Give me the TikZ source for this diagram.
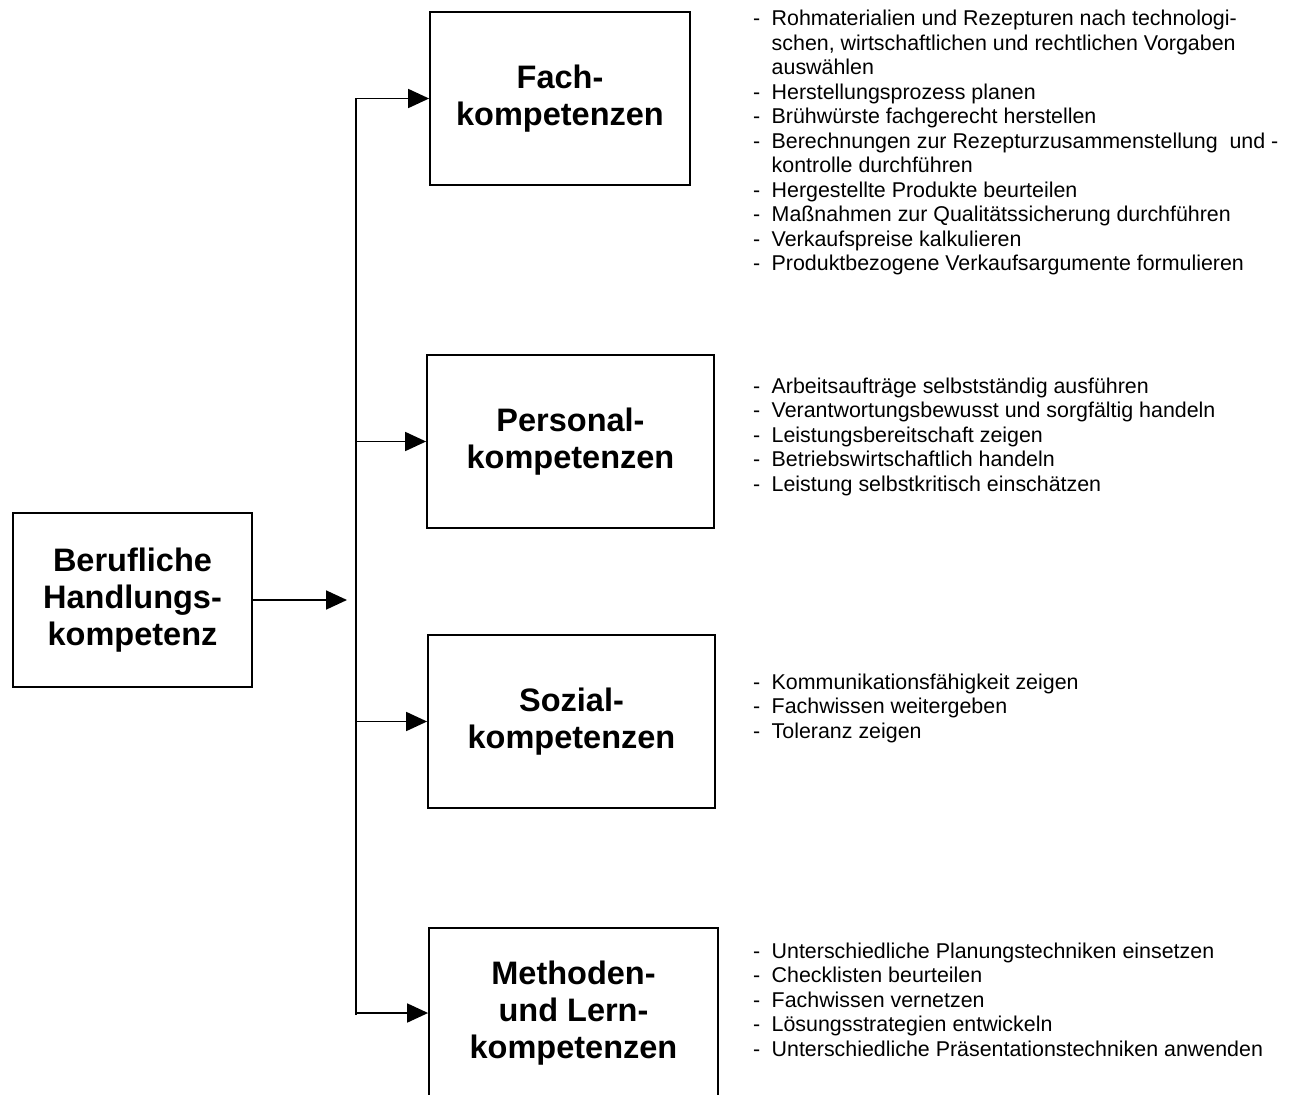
\documentclass[tikz,border=0pt]{standalone}
\usepackage{fontspec}
\setmainfont{Liberation Sans}
\usetikzlibrary{arrows.meta}
% list entries: a hyphen followed by the text, continuation lines indented
\newcommand\dashitem[1]{\makebox[18.5pt][l]{-}#1}
\newcommand\dashcont[1]{\hspace*{18.5pt}#1}
\newcommand\firstline{\rule{0pt}{20pt}}
\begin{document}
\begin{tikzpicture}[x=1pt,y=-1pt,
  box/.style={draw, line width=1.8pt, align=center, inner sep=0pt,
    font=\fontsize{32.5}{37}\selectfont\bfseries},
  conn/.style={line width=1.8pt},
  arr/.style={conn, -{Triangle[length=21pt,width=19pt]}},
  list/.style={anchor=north west, inner sep=0pt, align=left,
    font=\fontsize{21.4}{24.5}\selectfont}]
\useasboundingbox (0,0) rectangle (1294,1095);
\clip (0,0) rectangle (1294,1095);

% boxes
\node[box, minimum width=239pt, minimum height=174pt] (main) at (132.5,600)
  {Berufliche\\Handlungs-\\kompetenz};
\node[box, minimum width=260pt, minimum height=173pt] (fach) at (560,98.5)
  {Fach-\\kompetenzen};
\node[box, minimum width=287pt, minimum height=173pt] (pers) at (570.5,441.5)
  {Personal-\\kompetenzen};
\node[box, minimum width=287pt, minimum height=173pt] (sozi) at (571.5,721.5)
  {Sozial-\\kompetenzen};
\node[box, minimum width=289pt, minimum height=170pt] (meth) at (573.5,1013)
  {Methoden-\\und Lern-\\kompetenzen};

% connectors
\coordinate (ttop) at (356,98.5);
\coordinate (tbot) at (356,1015);
\coordinate (hub) at (347,600);
\draw[arr] (main.east) -- (hub);
\draw[arr] (tbot) -- (ttop) -- (fach.west);
\draw[arr] (ttop |- pers.west) -- (pers.west);
\draw[arr] (ttop |- sozi.west) -- (sozi.west);
\draw[arr] (ttop |- meth.west) -- (meth.west);

% lists of competences
\node[list] (fachlist) at (753,5.5) {\firstline\dashitem{Rohmaterialien und Rezepturen nach technologi-}\\
  \dashcont{schen, wirtschaftlichen und rechtlichen Vorgaben}\\
  \dashcont{auswählen}\\
  \dashitem{Herstellungsprozess planen}\\
  \dashitem{Brühwürste fachgerecht herstellen}\\
  \dashitem{Berechnungen zur Rezepturzusammenstellung\ \ und -}\\
  \dashcont{kontrolle durchführen}\\
  \dashitem{Hergestellte Produkte beurteilen}\\
  \dashitem{Maßnahmen zur Qualitätssicherung durchführen}\\
  \dashitem{Verkaufspreise kalkulieren}\\
  \dashitem{Produktbezogene Verkaufsargumente formulieren}};
\node[list] (perslist) at (753,373) {\firstline\dashitem{Arbeitsaufträge selbstständig ausführen}\\
  \dashitem{Verantwortungsbewusst und sorgfältig handeln}\\
  \dashitem{Leistungsbereitschaft zeigen}\\
  \dashitem{Betriebswirtschaftlich handeln}\\
  \dashitem{Leistung selbstkritisch einschätzen}};
\node[list] (sozilist) at (753,669) {\firstline\dashitem{Kommunikationsfähigkeit zeigen}\\
  \dashitem{Fachwissen weitergeben}\\
  \dashitem{Toleranz zeigen}};
\node[list] (methlist) at (753,938) {\firstline\dashitem{Unterschiedliche Planungstechniken einsetzen}\\
  \dashitem{Checklisten beurteilen}\\
  \dashitem{Fachwissen vernetzen}\\
  \dashitem{Lösungsstrategien entwickeln}\\
  \dashitem{Unterschiedliche Präsentationstechniken anwenden}};
\end{tikzpicture}
\end{document}
